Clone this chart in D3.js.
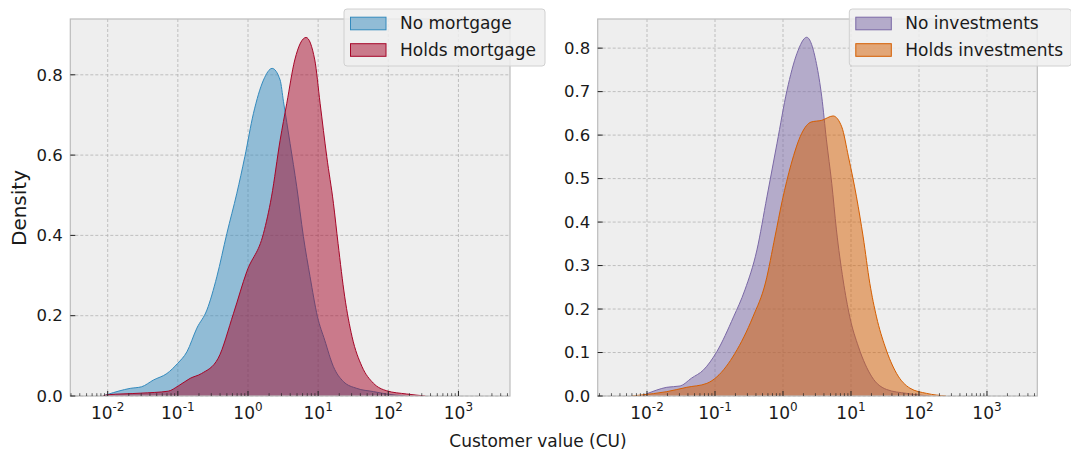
<!DOCTYPE html>
<html>
<head>
<meta charset="utf-8">
<script src="https://cdn.jsdelivr.net/npm/d3@7"></script>
<style>
  body { margin: 0; background: #fff; }
  text { font-family: "DejaVu Sans", sans-serif; fill: #1a1a1a; }
</style>
</head>
<body>
<svg id="chart" width="1071" height="453"></svg>
<script>
// x values are log10(customer value), y values are density
var noMortgageX = [-2.07, -2.0, -1.678, -1.517, -1.346, -1.156, -1.004, -0.871, -0.729, -0.586, -0.444, -0.301, -0.159, -0.045, 0.078, 0.221, 0.344, 0.458, 0.506, 0.6, 0.695, 0.79, 0.885, 0.99, 1.094, 1.218, 1.36, 1.55, 1.787, 1.977, 2.243];
var noMortgageY = [0.0, 0.004, 0.019, 0.023, 0.04, 0.056, 0.081, 0.11, 0.169, 0.214, 0.297, 0.405, 0.505, 0.596, 0.704, 0.787, 0.816, 0.787, 0.733, 0.629, 0.521, 0.397, 0.297, 0.198, 0.139, 0.073, 0.036, 0.019, 0.011, 0.005, 0.0];
var mortgageX = [-2.07, -2.0, -1.536, -1.137, -0.994, -0.824, -0.662, -0.425, -0.206, -0.017, 0.221, 0.335, 0.458, 0.553, 0.667, 0.828, 0.952, 1.028, 1.123, 1.218, 1.284, 1.379, 1.483, 1.626, 1.787, 1.977, 2.262, 2.528];
var mortgageY = [0.0, 0.003, 0.007, 0.012, 0.025, 0.044, 0.056, 0.094, 0.206, 0.31, 0.405, 0.496, 0.637, 0.729, 0.837, 0.893, 0.837, 0.729, 0.596, 0.48, 0.38, 0.247, 0.148, 0.073, 0.032, 0.013, 0.005, 0.0];

var noInvestX = [-2.08, -2.004, -1.709, -1.513, -1.346, -1.169, -0.973, -0.727, -0.56, -0.383, -0.236, -0.088, 0.059, 0.206, 0.349, 0.491, 0.57, 0.639, 0.717, 0.786, 0.884, 0.982, 1.11, 1.307, 1.523, 1.817, 2.151];
var noInvestY = [0.0, 0.005, 0.02, 0.023, 0.041, 0.06, 0.102, 0.182, 0.244, 0.336, 0.458, 0.581, 0.703, 0.788, 0.825, 0.765, 0.688, 0.589, 0.489, 0.382, 0.267, 0.182, 0.113, 0.044, 0.015, 0.006, 0.0];
var investX = [-2.22, -2.102, -1.709, -1.415, -1.12, -0.973, -0.707, -0.442, -0.255, -0.118, -0.01, 0.118, 0.275, 0.413, 0.57, 0.737, 0.864, 0.963, 1.081, 1.179, 1.277, 1.375, 1.503, 1.67, 1.867, 2.112, 2.397];
var investY = [0.0, 0.002, 0.01, 0.02, 0.029, 0.044, 0.098, 0.182, 0.262, 0.366, 0.45, 0.532, 0.604, 0.63, 0.634, 0.644, 0.619, 0.55, 0.458, 0.366, 0.259, 0.182, 0.113, 0.052, 0.018, 0.006, 0.0];

var leftLabels = ["No mortgage", "Holds mortgage"];
var rightLabels = ["No investments", "Holds investments"];
var leftYTicks = [0, 0.2, 0.4, 0.6, 0.8];
var rightYTicks = [0, 0.1, 0.2, 0.3, 0.4, 0.5, 0.6, 0.7, 0.8];
var decadeTicks = [-2, -1, 0, 1, 2, 3];

var colors = { blue: "#348ABD", red: "#A60628", purple: "#7A68A6", orange: "#D55E00" };

var svg = d3.select("#chart");

var panels = [
  { left: 70.3, right: 510, top: 19, bottom: 396, xdom: [-2.533, 3.735], ymax: 0.939,
    yTicks: leftYTicks,
    series: [
      { xs: noMortgageX, ys: noMortgageY, color: colors.blue, label: leftLabels[0] },
      { xs: mortgageX, ys: mortgageY, color: colors.red, label: leftLabels[1] }
    ],
    legend: { x: 344, y: 9, w: 201, h: 57 } },
  { left: 597.7, right: 1037.3, top: 19, bottom: 396, xdom: [-2.725, 3.74], ymax: 0.867,
    yTicks: rightYTicks,
    series: [
      { xs: noInvestX, ys: noInvestY, color: colors.purple, label: rightLabels[0] },
      { xs: investX, ys: investY, color: colors.orange, label: rightLabels[1] }
    ],
    legend: { x: 849.3, y: 9, w: 222, h: 57 } }
];

var fmt = d3.format(".1f");

panels.forEach(function(p) {
  var x = d3.scaleLog()
    .domain([Math.pow(10, p.xdom[0]), Math.pow(10, p.xdom[1])])
    .range([p.left, p.right]);
  var y = d3.scaleLinear().domain([0, p.ymax]).range([p.bottom, p.top]);

  var g = svg.append("g");

  g.append("rect")
    .attr("x", p.left).attr("y", p.top)
    .attr("width", p.right - p.left).attr("height", p.bottom - p.top)
    .attr("fill", "#eeeeee");

  // grid
  decadeTicks.forEach(function(d) {
    var px = x(Math.pow(10, d));
    g.append("line")
      .attr("x1", px).attr("x2", px).attr("y1", p.top).attr("y2", p.bottom)
      .attr("stroke", "#b2b2b2").attr("stroke-width", 0.8).attr("stroke-dasharray", "3,2");
  });
  p.yTicks.forEach(function(t) {
    g.append("line")
      .attr("x1", p.left).attr("x2", p.right).attr("y1", y(t)).attr("y2", y(t))
      .attr("stroke", "#b2b2b2").attr("stroke-width", 0.8).attr("stroke-dasharray", "3,2");
  });

  var area = d3.area()
    .x(function(d) { return x(Math.pow(10, d[0])); })
    .y0(y(0))
    .y1(function(d) { return y(d[1]); })
    .curve(d3.curveMonotoneX);
  var line = d3.line()
    .x(function(d) { return x(Math.pow(10, d[0])); })
    .y(function(d) { return y(d[1]); })
    .curve(d3.curveMonotoneX);

  var clipId = "clip" + Math.round(p.left);
  svg.append("clipPath").attr("id", clipId).append("rect")
    .attr("x", p.left).attr("y", p.top)
    .attr("width", p.right - p.left).attr("height", p.bottom - p.top);

  p.series.forEach(function(s) {
    var pts = d3.zip(s.xs, s.ys);
    g.append("path").datum(pts)
      .attr("clip-path", "url(#" + clipId + ")")
      .attr("d", area)
      .attr("fill", s.color).attr("fill-opacity", 0.5);
    g.append("path").datum(pts)
      .attr("clip-path", "url(#" + clipId + ")")
      .attr("d", line)
      .attr("fill", "none").attr("stroke", s.color).attr("stroke-width", 1);
  });

  // frame
  g.append("rect")
    .attr("x", p.left).attr("y", p.top)
    .attr("width", p.right - p.left).attr("height", p.bottom - p.top)
    .attr("fill", "none").attr("stroke", "#bcbcbc").attr("stroke-width", 1.2);

  // x ticks (inside), major + minor
  for (var d = -3; d <= 3; d++) {
    for (var m = 1; m <= 9; m++) {
      var v = m * Math.pow(10, d);
      if (v < x.domain()[0] || v > x.domain()[1]) continue;
      var px = x(v);
      g.append("line")
        .attr("x1", px).attr("x2", px)
        .attr("y1", p.bottom).attr("y2", p.bottom - (m === 1 ? 5 : 2.8))
        .attr("stroke", "#222").attr("stroke-width", m === 1 ? 1 : 0.7);
    }
  }
  decadeTicks.forEach(function(d) {
    var t = g.append("text")
      .attr("x", x(Math.pow(10, d))).attr("y", 419)
      .attr("text-anchor", "middle").attr("font-size", "17px");
    t.append("tspan").text("10");
    t.append("tspan").attr("dy", -8).attr("font-size", "12px").text(d < 0 ? "-" + (-d) : String(d));
  });

  // y ticks
  p.yTicks.forEach(function(tv) {
    g.append("line")
      .attr("x1", p.left).attr("x2", p.left + 5)
      .attr("y1", y(tv)).attr("y2", y(tv))
      .attr("stroke", "#222").attr("stroke-width", 1);
    g.append("text")
      .attr("x", p.left - 7.5).attr("y", y(tv)).attr("dy", "0.35em")
      .attr("text-anchor", "end").attr("font-size", "16.5px")
      .text(fmt(tv));
  });

  // legend
  var L = p.legend;
  var lg = svg.append("g");
  lg.append("rect")
    .attr("x", L.x).attr("y", L.y).attr("width", L.w).attr("height", L.h)
    .attr("rx", 3).attr("fill", "#eeeeee").attr("fill-opacity", 0.85)
    .attr("stroke", "#d0d0d0").attr("stroke-width", 1);
  p.series.forEach(function(s, i) {
    var cy = L.y + 14.5 + i * 26.5;
    lg.append("rect")
      .attr("x", L.x + 6.5).attr("y", cy - 6.3).attr("width", 35.5).attr("height", 12.6)
      .attr("fill", s.color).attr("fill-opacity", 0.5)
      .attr("stroke", s.color).attr("stroke-width", 1);
    lg.append("text")
      .attr("x", L.x + 56).attr("y", cy).attr("dy", "0.35em")
      .attr("font-size", "17px").text(s.label);
  });
});

svg.append("text")
  .attr("transform", "translate(26,208) rotate(-90)")
  .attr("text-anchor", "middle").attr("font-size", "20px")
  .text("Density");

svg.append("text")
  .attr("x", 538).attr("y", 447)
  .attr("text-anchor", "middle").attr("font-size", "17px")
  .text("Customer value (CU)");
</script>
</body>
</html>
